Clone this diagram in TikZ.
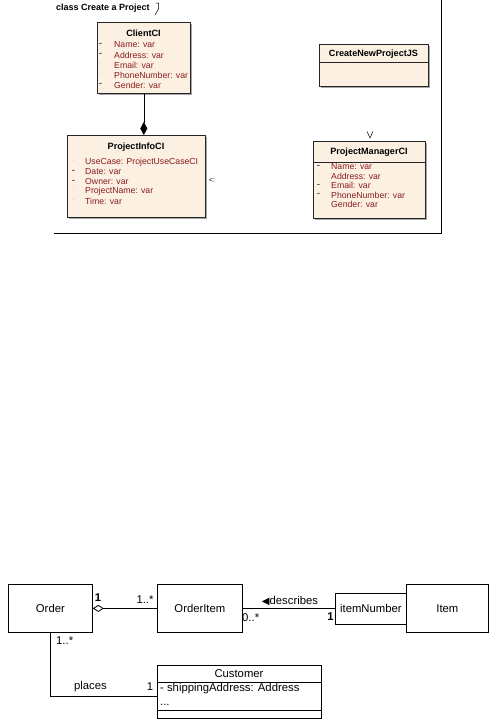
\documentclass[tikz,border=0pt]{standalone}
\usepackage{fontspec}
\setmainfont{Liberation Sans}
\newfontfamily\dejavu{DejaVu Sans}
\usetikzlibrary{arrows.meta,shadows}
\definecolor{beige}{HTML}{FBF0E2}
\definecolor{attr}{HTML}{8A1C1C}
\begin{document}
\begin{tikzpicture}[x=1pt,y=-1pt,
  umlbox/.style={draw=black!85, line width=0.6pt, fill=beige, anchor=north west, inner sep=0pt,
    copy shadow={shadow xshift=1.8pt, shadow yshift=-1.8pt, fill=black!35, draw=none}},
  ctitle/.style={font=\fontsize{9.1}{10}\selectfont\bfseries, inner sep=0pt},
  attrtext/.style={font=\fontsize{8.7}{10}\selectfont, text=attr, anchor=west, inner sep=0pt},
  mk1/.style={font=\fontsize{10}{10}\selectfont, text=black!85, inner sep=0pt},
  mk0/.style={font=\fontsize{10}{10}\selectfont, text=black!12, inner sep=0pt},
  frameline/.style={line width=0.8pt},
  ubox/.style={draw, line width=0.8pt, inner sep=0pt, anchor=north west, font=\fontsize{11.3}{13}\selectfont},
  ulabel/.style={font=\fontsize{11.3}{13}\selectfont, inner sep=0pt},
  uline/.style={line width=0.8pt}
]
\useasboundingbox (0,0) rectangle (494,720);

% ---------- top diagram ----------
\node[font=\fontsize{9}{11}\selectfont\bfseries, anchor=west, inner sep=0pt] (frametitle) at (56,8) {class Create a Project};
\draw[line width=0.5pt] (155.5,3) -- (158.5,3) -- (158.5,9) -- (155,15);

\coordinate (frameTR) at (441,0);
\coordinate (frameBR) at (441,233);
\coordinate (frameBL) at (54,233);
\draw[frameline] (frameTR) -- (frameBR) -- (frameBL);

% ClientCI
\node[umlbox, minimum width=93pt, minimum height=71pt] (ClientCI) at (97,22) {};
\node[ctitle] (ClientCI-t) at (143.5,33) {ClientCI};
\foreach \txt/\m [count=\i from 0] in {Name: var/1, Address: var/1, Email: var/0, PhoneNumber: var/0, Gender: var/1} {
  \node[attrtext] (ClientCI-a\i) at (114,45+10*\i) {\txt};
  \node[mk\m] (ClientCI-m\i) at (100.5,45+10*\i) {-};
}

% ProjectInfoCI
\node[umlbox, minimum width=138pt, minimum height=82pt] (ProjectInfoCI) at (67,135) {};
\node[ctitle] (ProjectInfoCI-t) at (136,147) {ProjectInfoCI};
\foreach \txt/\m [count=\i from 0] in {UseCase: ProjectUseCaseCI/0, Date: var/1, Owner: var/1, ProjectName: var/0, Time: var/0} {
  \node[attrtext] (ProjectInfoCI-a\i) at (85,162+9.8*\i) {\txt};
  \node[mk\m] (ProjectInfoCI-m\i) at (73.5,162+9.8*\i) {-};
}

\draw[line width=0.6pt, -{Diamond[length=13pt, width=7pt]}] (ClientCI.south) -- (ClientCI.south |- ProjectInfoCI.north);

\node[font=\fontsize{7}{8}\selectfont, inner sep=0pt] (arrowrem1) at (212,180.5) {<:};

% CreateNewProjectJS
\node[umlbox, minimum width=109pt, minimum height=42pt] (CreateNewProjectJS) at (319,44) {};
\node[ctitle] (CreateNewProjectJS-t) at (373.5,54) {CreateNewProjectJS};
\draw[line width=0.6pt, black!85] ([yshift=-18pt]CreateNewProjectJS.north west) -- ([yshift=-18pt]CreateNewProjectJS.north east);

% ProjectManagerCI
\node[umlbox, minimum width=112pt, minimum height=77pt] (ProjectManagerCI) at (313,141) {};
\node[ctitle] (ProjectManagerCI-t) at (369,152) {ProjectManagerCI};
\draw[line width=0.6pt, black!85] ([yshift=-21pt]ProjectManagerCI.north west) -- ([yshift=-21pt]ProjectManagerCI.north east);
\foreach \txt/\m [count=\i from 0] in {Name: var/1, Address: var/0, Email: var/1, PhoneNumber: var/1, Gender: var/0} {
  \node[attrtext] (ProjectManagerCI-a\i) at (331,167+9.3*\i) {\txt};
  \node[mk\m] (ProjectManagerCI-m\i) at (318.5,167+9.3*\i) {-};
}
\draw[line width=0.5pt] (367,131.5) -- (370,138) -- (373,131.5);

% ---------- bottom diagram ----------
\node[ubox, minimum width=84pt, minimum height=48pt] (Order) at (8,584) {};
\node[ulabel] (Order-t) at (Order.center) {Order};
\node[ubox, minimum width=85pt, minimum height=48pt] (OrderItem) at (157,584) {};
\node[ulabel] (OrderItem-t) at (OrderItem.center) {OrderItem};
\node[ubox, minimum width=71pt, minimum height=31pt] (itemNumber) at (335,592.5) {};
\node[ulabel] (itemNumber-t) at (itemNumber.center) {itemNumber};
\node[ubox, minimum width=82pt, minimum height=48pt] (Item) at (406,584) {};
\node[ulabel] (Item-t) at (Item.center) {Item};

\node[ubox, minimum width=164pt, minimum height=53pt] (Customer) at (157,665) {};
\node[ulabel] (Customer-t) at (239,673.5) {Customer};
\draw[uline] ([yshift=-17pt]Customer.north west) -- ([yshift=-17pt]Customer.north east);
\draw[uline] ([yshift=-45pt]Customer.north west) -- ([yshift=-45pt]Customer.north east);
\node[ulabel, anchor=west] (Customer-a) at (160,689) {- shippingAddress: Address};
\node[ulabel, anchor=west] (Customer-o) at (160,704.5) {...};

\draw[uline, {Diamond[open, fill=white, length=11pt, width=7pt]}-] (Order.east) -- (OrderItem.west);
\draw[uline] (OrderItem.east) -- (OrderItem.east -| itemNumber.west);
\coordinate (custin) at ([yshift=-4.5pt]Customer.west);
\draw[uline] (Order.south) |- (custin);

\node[ulabel, font=\fontsize{11.3}{13}\selectfont\bfseries] (l1) at (98,597.5) {1};
\node[ulabel] (l2) at (145,600) {1..*};
\node[ulabel, anchor=west] (l3) at (242,618) {0..*};
\node[ulabel] (l4) at (290,601) {{\dejavu\fontsize{10}{10}\selectfont ◀}describes};
\node[ulabel, font=\fontsize{11.3}{13}\selectfont\bfseries] (l5) at (330.5,617) {1};
\node[ulabel, anchor=west] (l6) at (56,641) {1..*};
\node[ulabel] (l7) at (90.5,687) {places};
\node[ulabel] (l8) at (150,687) {1};
\end{tikzpicture}
\end{document}
